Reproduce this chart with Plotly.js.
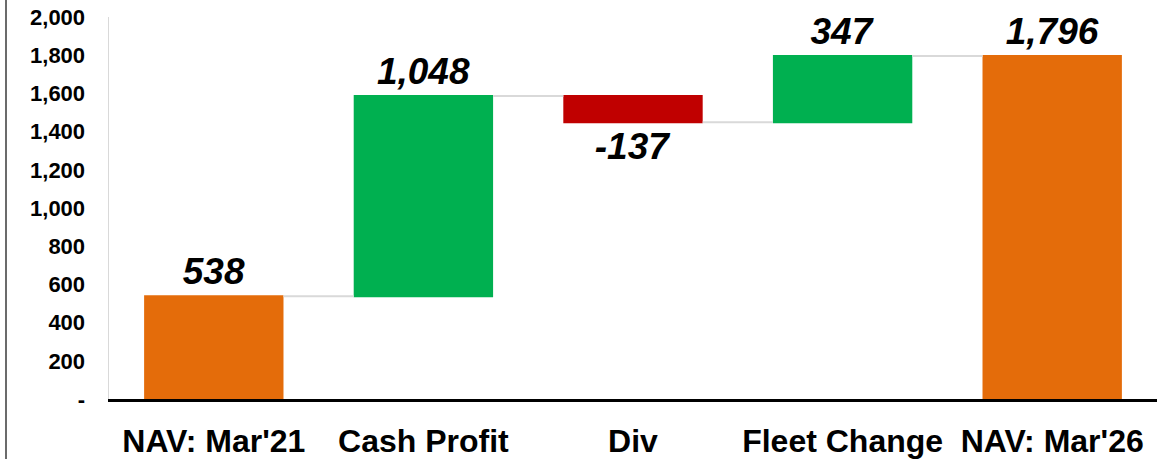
<!DOCTYPE html>
<html>
<head>
<meta charset="utf-8">
<script src="https://cdn.plot.ly/plotly-3.0.1.min.js"></script>
<style>
html,body{margin:0;padding:0;background:#fff;}
#chart{position:absolute;left:0;top:0;width:1168px;height:459px;}
#frame{position:absolute;left:5px;top:0;width:2px;height:459px;background:#6b6b6b;}
</style>
</head>
<body>
<div id="chart"></div>
<div id="frame"></div>
<script>
const categories = ["NAV: Mar'21", "Cash Profit", "Div", "Fleet Change", "NAV: Mar'26"];
const values = [538, 1048, -137, 347, 1796];
const measures = ["absolute", "relative", "relative", "relative", "total"];
const yTickVals = [0, 200, 400, 600, 800, 1000, 1200, 1400, 1600, 1800, 2000];
const yTickText = ["-", "200", "400", "600", "800", "1,000", "1,200", "1,400", "1,600", "1,800", "2,000"];

const fmt = v => (v < 0 ? "-" : "") + Math.abs(v).toLocaleString("en-US");
const font = "'Liberation Sans', Arial, sans-serif";

const trace = {
  type: "waterfall",
  x: categories,
  y: values.map((v, i) => measures[i] === "total" ? 0 : v),
  measure: measures,
  text: values.map(fmt),
  textposition: "outside",
  cliponaxis: false,
  textfont: {family: font, size: 37, color: "#000", weight: "bold", style: "italic"},
  increasing: {marker: {color: "#00b050"}},
  decreasing: {marker: {color: "#c00000"}},
  totals: {marker: {color: "#e46c0a"}},
  connector: {line: {color: "#d9d9d9", width: 2}},
  hoverinfo: "none"
};

const layout = {
  width: 1168, height: 459,
  margin: {l: 109, r: 11, t: 17, b: 60},
  paper_bgcolor: "#fff", plot_bgcolor: "#fff",
  showlegend: false,
  waterfallgap: 0.335,
  font: {family: font, color: "#000"},
  xaxis: {
    type: "category",
    showgrid: false, zeroline: false,
    showline: true, linecolor: "#000", linewidth: 2.5,
    ticks: "", ticklabelstandoff: 12,
    tickfont: {family: font, size: 32, color: "#000", weight: "bold"},
    fixedrange: true
  },
  yaxis: {
    range: [0, 2000],
    showgrid: false, zeroline: false,
    showline: true, linecolor: "#d9d9d9", linewidth: 1.5,
    tickmode: "array", tickvals: yTickVals, ticktext: yTickText,
    ticks: "", ticklabelstandoff: 18,
    tickfont: {family: font, size: 22, color: "#000", weight: "bold"},
    fixedrange: true
  }
};

Plotly.newPlot("chart", [trace], layout, {staticPlot: true, displayModeBar: false});
</script>
</body>
</html>
